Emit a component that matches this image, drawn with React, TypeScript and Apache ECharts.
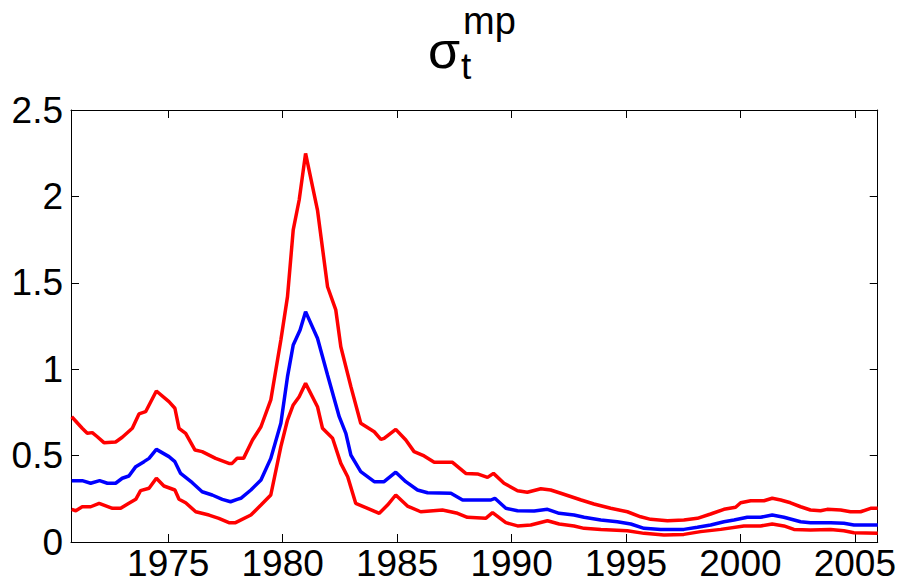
import React, { useEffect, useRef } from "react";
import * as echarts from "echarts";

const upperYears = [1970.78,1971.24,1971.46,1971.68,1971.90,1972.19,1972.70,1972.99,1973.43,1973.72,1974.01,1974.48,1975.03,1975.29,1975.47,1975.76,1976.17,1976.48,1977.07,1977.65,1977.79,1978.01,1978.29,1978.68,1979.05,1979.48,1979.92,1980.21,1980.46,1980.72,1981.00,1981.52,1981.96,1982.32,1982.54,1982.98,1983.41,1984.00,1984.29,1984.43,1984.94,1985.38,1985.74,1986.18,1986.62,1987.42,1988.00,1988.51,1988.95,1989.21,1989.67,1990.26,1990.69,1991.28,1991.71,1992.15,1993.04,1993.60,1994.33,1995.06,1995.64,1996.08,1996.81,1997.53,1998.12,1998.70,1999.28,1999.79,2000.01,2000.45,2001.03,2001.39,2001.76,2002.19,2002.63,2003.06,2003.50,2003.79,2004.38,2004.81,2005.25,2005.69,2006.00];
const upperValues = [0.725,0.658,0.629,0.633,0.609,0.575,0.579,0.606,0.658,0.741,0.754,0.874,0.812,0.774,0.658,0.629,0.532,0.523,0.484,0.455,0.455,0.484,0.484,0.590,0.667,0.822,1.169,1.420,1.806,1.979,2.249,1.921,1.477,1.343,1.130,0.899,0.687,0.638,0.594,0.600,0.652,0.590,0.523,0.498,0.461,0.461,0.397,0.394,0.374,0.397,0.340,0.297,0.288,0.308,0.301,0.282,0.243,0.220,0.195,0.175,0.146,0.131,0.123,0.127,0.137,0.162,0.189,0.201,0.227,0.239,0.239,0.253,0.243,0.227,0.204,0.185,0.181,0.189,0.185,0.175,0.175,0.195,0.195];

const medianYears = [1970.78,1971.24,1971.61,1972.00,1972.34,1972.70,1972.99,1973.28,1973.58,1973.94,1974.16,1974.48,1975.03,1975.29,1975.54,1976.05,1976.48,1976.92,1977.36,1977.72,1978.01,1978.17,1978.61,1979.05,1979.48,1979.92,1980.21,1980.46,1980.76,1981.00,1981.52,1981.96,1982.47,1982.76,1982.98,1983.41,1984.00,1984.43,1984.94,1985.38,1985.89,1986.33,1987.35,1987.86,1989.10,1989.27,1989.75,1990.26,1990.99,1991.57,1992.08,1992.73,1993.17,1993.90,1994.62,1995.21,1995.79,1996.52,1997.53,1998.12,1998.70,1999.28,1999.72,2000.30,2000.88,2001.39,2001.90,2002.63,2003.06,2003.94,2004.52,2004.96,2006.00];
const medianValues = [0.355,0.355,0.340,0.355,0.340,0.340,0.369,0.382,0.436,0.465,0.484,0.536,0.494,0.465,0.397,0.343,0.291,0.272,0.247,0.233,0.247,0.253,0.301,0.359,0.484,0.687,0.957,1.140,1.227,1.333,1.179,0.966,0.725,0.629,0.503,0.407,0.349,0.349,0.404,0.349,0.301,0.285,0.282,0.243,0.243,0.253,0.195,0.181,0.179,0.189,0.166,0.156,0.143,0.127,0.117,0.104,0.079,0.073,0.073,0.085,0.098,0.117,0.127,0.143,0.143,0.156,0.143,0.117,0.112,0.112,0.108,0.098,0.098];

const lowerYears = [1970.78,1970.96,1971.24,1971.61,1971.98,1972.56,1972.92,1973.28,1973.58,1973.79,1974.16,1974.48,1974.81,1975.29,1975.47,1975.76,1976.20,1976.78,1977.21,1977.65,1977.94,1978.61,1979.05,1979.48,1979.92,1980.21,1980.46,1980.72,1981.00,1981.52,1981.74,1982.18,1982.54,1982.84,1983.19,1983.71,1984.22,1984.58,1984.94,1985.45,1986.03,1986.98,1987.64,1988.07,1988.87,1989.17,1989.75,1990.26,1990.84,1991.57,1992.08,1992.73,1993.17,1993.90,1995.06,1995.79,1996.66,1997.53,1998.26,1999.14,2000.15,2000.88,2001.39,2001.90,2002.34,2003.06,2003.94,2004.52,2004.96,2006.00];
const lowerValues = [0.189,0.181,0.204,0.204,0.224,0.195,0.195,0.224,0.247,0.297,0.311,0.369,0.324,0.301,0.247,0.227,0.175,0.156,0.137,0.112,0.112,0.156,0.214,0.272,0.552,0.706,0.793,0.841,0.918,0.783,0.658,0.600,0.455,0.378,0.224,0.195,0.166,0.214,0.272,0.208,0.175,0.185,0.166,0.143,0.137,0.170,0.112,0.093,0.098,0.123,0.104,0.093,0.079,0.073,0.065,0.050,0.040,0.044,0.060,0.073,0.093,0.093,0.104,0.093,0.073,0.069,0.073,0.065,0.054,0.050];

const xTicks = [1975, 1980, 1985, 1990, 1995, 2000, 2005];
const xMin = 1970.75;
const xMax = 2006.0;
const yMax = 2.5;
const yStep = 0.5;

const FONT = 'Arial, "Liberation Sans", sans-serif';

function pairs(xs: number[], ys: number[]) {
  return xs.map((x, i) => [x, ys[i]]);
}

export default function App() {
  const ref = useRef<HTMLDivElement>(null);
  useEffect(() => {
    if (!ref.current) return;
    const chart = echarts.init(ref.current, undefined, { renderer: "svg" });
    const tickStyle = { show: true, inside: true, length: 8, lineStyle: { color: "#000", width: 1 } };
    const axisLine = { show: true, onZero: false, lineStyle: { color: "#000", width: 1 } };
    const lw = 3.5;
    chart.setOption({
      animation: false,
      backgroundColor: "#fff",
      grid: { left: 71, right: 21, top: 110, bottom: 44, containLabel: false },
      xAxis: [
        {
          type: "value", min: xMin, max: xMax, position: "bottom",
          axisLine, splitLine: { show: false },
          axisTick: { ...tickStyle, customValues: xTicks },
          axisLabel: { customValues: xTicks, formatter: (v: number) => String(v), color: "#000", fontSize: 37, fontFamily: FONT, margin: 3 },
        },
        {
          type: "value", min: xMin, max: xMax, position: "top",
          axisLine, splitLine: { show: false },
          axisTick: { ...tickStyle, customValues: xTicks },
          axisLabel: { show: false },
        },
      ],
      yAxis: [
        {
          type: "value", min: 0, max: yMax, interval: yStep, position: "left",
          axisLine, splitLine: { show: false },
          axisTick: tickStyle,
          axisLabel: { color: "#000", fontSize: 37, fontFamily: FONT, margin: 8 },
        },
        {
          type: "value", min: 0, max: yMax, interval: yStep, position: "right",
          axisLine, splitLine: { show: false },
          axisTick: tickStyle,
          axisLabel: { show: false },
        },
      ],
      series: [
        { type: "line", name: "upper", data: pairs(upperYears, upperValues), showSymbol: false, lineStyle: { color: "#ff0000", width: lw }, itemStyle: { color: "#ff0000" } },
        { type: "line", name: "lower", data: pairs(lowerYears, lowerValues), showSymbol: false, lineStyle: { color: "#ff0000", width: lw }, itemStyle: { color: "#ff0000" } },
        { type: "line", name: "median", data: pairs(medianYears, medianValues), showSymbol: false, lineStyle: { color: "#0000ff", width: lw }, itemStyle: { color: "#0000ff" } },
      ],
      graphic: [
        { type: "text", left: 428, top: 24, style: { text: "σ", font: `52px ${FONT}`, lineHeight: 52, fill: "#000" } },
        { type: "text", left: 461, top: 48, style: { text: "t", font: `37px ${FONT}`, lineHeight: 37, fill: "#000" } },
        { type: "text", left: 463, top: 2, style: { text: "mp", font: `38px ${FONT}`, lineHeight: 38, fill: "#000" } },
      ],
    });
    return () => chart.dispose();
  }, []);
  return <div ref={ref} style={{ position: "fixed", left: 0, top: 0, width: 899, height: 586 }} />;
}
